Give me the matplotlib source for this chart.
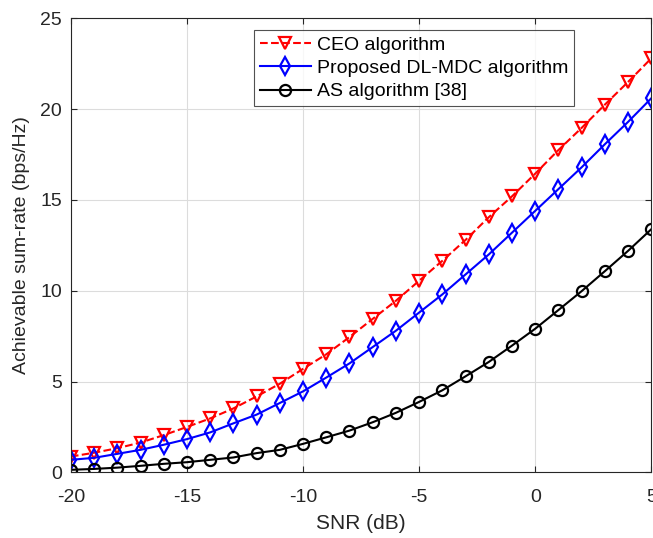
import numpy as np
import matplotlib
matplotlib.use("Agg")
import matplotlib.pyplot as plt

plt.rcParams['font.family'] = ['Liberation Sans', 'DejaVu Sans']
plt.rcParams['axes.unicode_minus'] = False

snr = np.arange(-20, 6)
ceo = [0.87, 1.08, 1.33, 1.64, 2.05, 2.5, 2.97, 3.52, 4.18, 4.88, 5.7, 6.5,
       7.45, 8.45, 9.45, 10.55, 11.65, 12.8, 14.05, 15.2, 16.45, 17.75, 18.97,
       20.25, 21.5, 22.8]
dlmdc = [0.69, 0.8, 1.02, 1.24, 1.52, 1.83, 2.2, 2.7, 3.18, 3.82, 4.46, 5.22,
         6.0, 6.9, 7.8, 8.8, 9.8, 10.9, 12.0, 13.2, 14.4, 15.6, 16.8, 18.07,
         19.3, 20.6]
asalg = [0.14, 0.19, 0.26, 0.36, 0.47, 0.56, 0.69, 0.82, 1.06, 1.24, 1.57, 1.93,
         2.3, 2.76, 3.28, 3.88, 4.52, 5.29, 6.08, 6.98, 7.91, 8.94, 9.98, 11.08,
         12.2, 13.39]

fig = plt.figure(figsize=(6.53, 5.38), dpi=100)
ax = fig.add_axes([0.1085, 0.122, 0.889, 0.844])

ax.plot(snr, ceo, '--v', color='red', lw=1.5, ms=9, mfc='none', mew=1.6,
        label='CEO algorithm')
ax.plot(snr, dlmdc, '-d', color='blue', lw=1.5, ms=9, mfc='none', mew=1.6,
        label='Proposed DL-MDC algorithm')
ax.plot(snr, asalg, '-o', color='black', lw=1.5, ms=8, mfc='none', mew=1.6,
        label='AS algorithm [38]')

ax.set_xlim(-20, 5)
ax.set_ylim(0, 25)
ax.set_xticks(np.arange(-20, 6, 5))
ax.set_yticks(np.arange(0, 26, 5))
ax.grid(True, color='#dcdcdc', lw=0.8)
ax.set_axisbelow(True)
ax.tick_params(direction='in', length=4, labelsize=14, colors='#262626',
               top=True, right=True)
ax.tick_params(axis='x', pad=12)
ax.tick_params(axis='y', pad=6.5)
for s in ax.spines.values():
    s.set_color('#262626')
    s.set_linewidth(0.8)

ax.set_xlabel('SNR (dB)', fontsize=15, color='#262626', labelpad=6)
ax.set_ylabel('Achievable sum-rate (bps/Hz)', fontsize=14, color='#262626',
              labelpad=7)

leg = ax.legend(loc='upper left', bbox_to_anchor=(0.316, 0.974), fontsize=14,
                frameon=True, fancybox=False, edgecolor='#262626',
                handlelength=2.6, borderpad=0.3, labelspacing=0.3,
                handletextpad=0.3, borderaxespad=0)
leg.get_frame().set_linewidth(0.8)

fig.savefig('out.png', dpi=100)
